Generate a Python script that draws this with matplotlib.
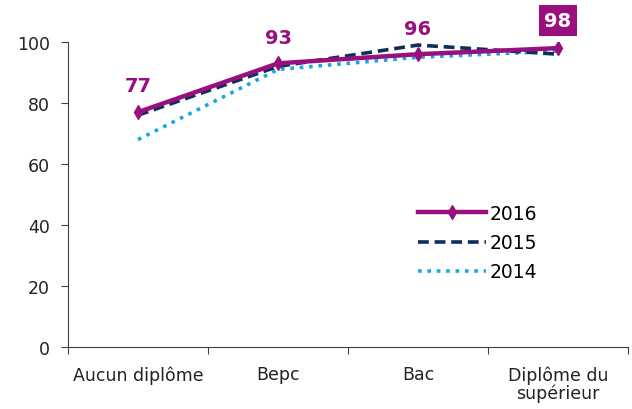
import matplotlib
matplotlib.use("Agg")
import matplotlib.pyplot as plt
import numpy as np

categories = ["Aucun diplôme", "Bepc", "Bac", "Diplôme du\nsupérieur"]
v2016 = [77, 93, 96, 98]
v2015 = [76, 92, 99, 96]
v2014 = [68, 91, 95, 97]
yticks = [0, 20, 40, 60, 80, 100]

purple = "#990F7E"
navy = "#0E2F5E"
sky = "#1BA6E3"

plt.rcParams['font.family'] = ['DejaVu Sans']
fig = plt.figure(figsize=(6.32, 4.10), dpi=100)
ax = fig.add_axes([68/632, 62/410, 560/632, 305/410])

x = np.arange(len(categories))
ax.plot(x, v2014, color=sky, lw=2.6, linestyle=(0, (1, 1.6)), label="2014", zorder=2)
ax.plot(x, v2015, color=navy, lw=2.6, linestyle=(0, (3, 1.6)), label="2015", zorder=3)
ax.plot(x, v2016, color=purple, lw=3.2, marker="d", ms=7, label="2016", zorder=4)

for i, v in enumerate(v2016):
    if i == len(v2016) - 1:
        ax.annotate(str(v), (x[i], v), xytext=(0, 13), textcoords="offset points",
                    ha="center", va="bottom", color="white", fontsize=14, fontweight="bold",
                    bbox=dict(boxstyle="square,pad=0.3", fc=purple, ec="none"))
    else:
        ax.annotate(str(v), (x[i], v), xytext=(0, 12), textcoords="offset points",
                    ha="center", va="bottom", color=purple, fontsize=14, fontweight="bold")

ax.set_xlim(-0.5, len(categories) - 0.5)
ax.set_ylim(0, 100)
ax.set_yticks(yticks)
ax.tick_params(axis="y", labelsize=12.5, length=5, pad=8, color="#404040", labelcolor="#222222")
ax.set_xticks(np.arange(-0.5, len(categories), 1.0))
ax.set_xticklabels([])
ax.tick_params(axis="x", which="major", length=5, color="#404040")
ax.set_xticks(x, minor=True)
ax.set_xticklabels(categories, minor=True, fontsize=12.5, color="#222222", linespacing=1.0)
ax.tick_params(axis="x", which="minor", length=0, pad=13)

for s in ["top", "right"]:
    ax.spines[s].set_visible(False)
for s in ["left", "bottom"]:
    ax.spines[s].set_color("#404040")

h, l = ax.get_legend_handles_labels()
ax.legend(h[::-1], l[::-1], loc="upper left", bbox_to_anchor=(0.595, 0.525), frameon=False,
          fontsize=13.5, handlelength=3.6, handletextpad=0.2, labelspacing=0.55)

fig.savefig("out.png", dpi=100)
